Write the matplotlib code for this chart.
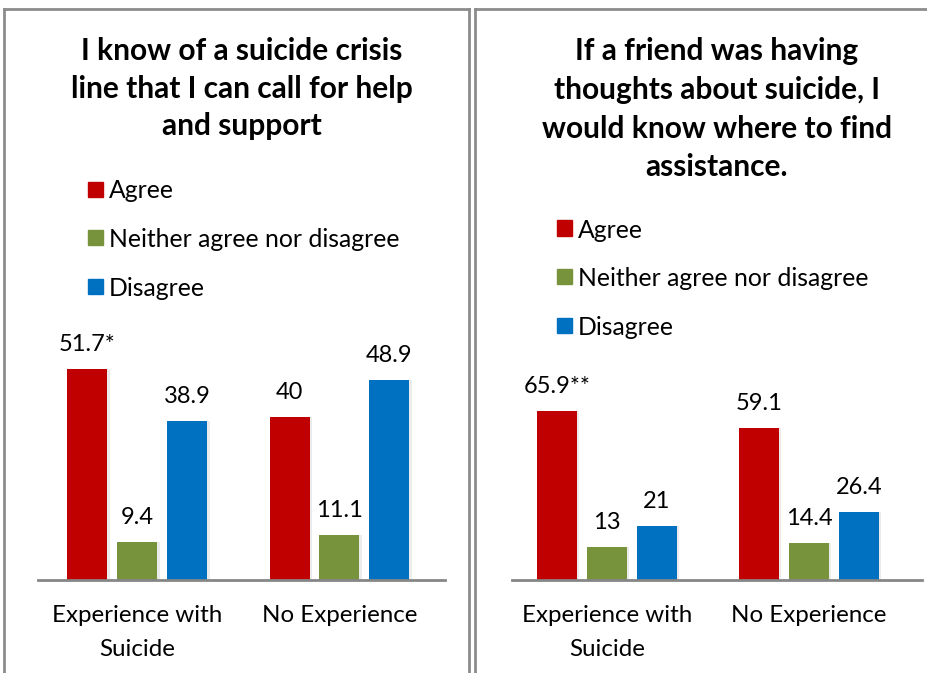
import matplotlib
matplotlib.use("Agg")
import matplotlib.pyplot as plt
from matplotlib.patches import Rectangle
from matplotlib.lines import Line2D

plt.rcParams['font.family'] = ['Lato', 'DejaVu Sans']

W, H = 928, 673

categories = ["Experience with\nSuicide", "No Experience"]
series = ["Agree", "Neither agree nor disagree", "Disagree"]
colors = ["#C00000", "#77933C", "#0070C0"]

left_title = "I know of a suicide crisis\nline that I can call for help\nand support"
left_agree = [51.7, 40]
left_neither = [9.4, 11.1]
left_disagree = [38.9, 48.9]
left_labels = [["51.7*", "40"], ["9.4", "11.1"], ["38.9", "48.9"]]

right_title = "If a friend was having\nthoughts about suicide, I\nwould know where to find\nassistance."
right_agree = [65.9, 59.1]
right_neither = [13, 14.4]
right_disagree = [21, 26.4]
right_labels = [["65.9**", "59.1"], ["13", "14.4"], ["21", "26.4"]]

fig = plt.figure(figsize=(W / 100, H / 100), dpi=100)


def fx(px):
    return px / W


def fy(py):
    return 1 - py / H


def panel(ax_left, ax_right, base_y, px_per_unit, top_y, group_c0, values, labels,
          title, title_y, title_ls, legend_x, legend_y0, legend_gap):
    ymax = (base_y - top_y) / px_per_unit
    ax = fig.add_axes([fx(ax_left), fy(base_y), (ax_right - ax_left) / W,
                       (base_y - top_y) / H])
    gap = 202.0
    off = 50.0 / gap
    bw = 40.0 / gap
    xs = [0, 1]
    for i, vals in enumerate(values):
        pos = [x + (i - 1) * off for x in xs]
        # subtle shadow
        ax.bar([p + 0.012 for p in pos], vals, width=bw, color="#000000",
               alpha=0.08, zorder=1)
        ax.bar(pos, vals, width=bw, color=colors[i], zorder=2)
        for p, v, lab in zip(pos, vals, labels[i]):
            ax.text(p, v + 14 / px_per_unit, lab, ha="center", va="bottom",
                    fontsize=17, color="black")
    ax.set_xlim((ax_left - group_c0) / gap, (ax_right - group_c0) / gap)
    ax.set_ylim(0, ymax)
    for s in ["top", "right", "left"]:
        ax.spines[s].set_visible(False)
    ax.spines["bottom"].set_color("#868686")
    ax.spines["bottom"].set_linewidth(2)
    ax.set_yticks([])
    ax.set_xticks(xs)
    ax.set_xticklabels(categories, fontsize=17.4, linespacing=1.78)
    ax.tick_params(axis="x", length=0, pad=18)
    ax.patch.set_alpha(0)
    # title
    fig.text(fx((ax_left + ax_right) / 2), fy(title_y), title, ha="center",
             va="top", fontsize=21.5, fontweight="bold", linespacing=title_ls)
    # legend
    for i, name in enumerate(series):
        cy = legend_y0 + i * legend_gap
        fig.add_artist(Rectangle((fx(legend_x), fy(cy + 7.5)), 15 / W, 15 / H,
                                 transform=fig.transFigure, color=colors[i]))
        fig.text(fx(legend_x + 21), fy(cy), name, ha="left", va="center_baseline",
                 fontsize=17.8)


panel(38, 445, 580, 4.08, 300, 137.5,
      [left_agree, left_neither, left_disagree], left_labels,
      left_title, 37, 1.42, 88, 189, 48.5)
panel(512, 922, 580, 2.566, 350, 607,
      [right_agree, right_neither, right_disagree], right_labels,
      right_title, 37, 1.47, 557, 228, 48.5)

# table-like borders
border = "#8C8C8C"
lw = 2.0
for (x0, y0, x1, y1) in [(4, 9, 469, 9), (4, 9, 4, 673), (469, 9, 469, 673),
                         (475, 9, 475, 673), (475, 9, 928, 9)]:
    fig.add_artist(Line2D([fx(x0), fx(x1)], [fy(y0), fy(y1)],
                          transform=fig.transFigure, color=border, lw=lw))

fig.savefig("out.png", dpi=100)
